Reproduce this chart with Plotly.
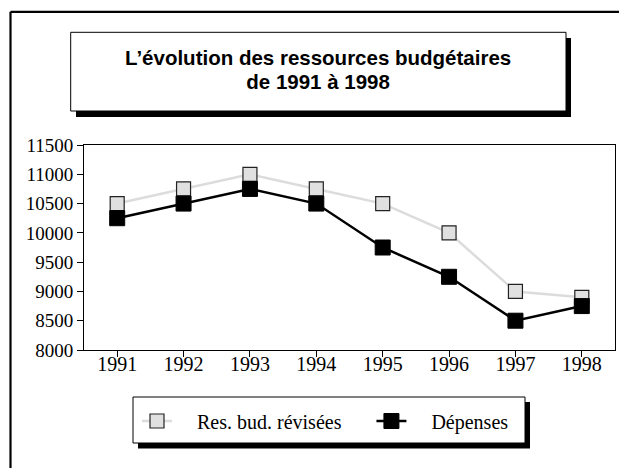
import plotly.graph_objects as go

years = [1991, 1992, 1993, 1994, 1995, 1996, 1997, 1998]
res_bud_revisees = [10500, 10750, 11000, 10750, 10500, 10000, 9000, 8900]
depenses = [10250, 10500, 10750, 10500, 9750, 9250, 8500, 8750]
series_names = ["Res. bud. révisées", "Dépenses"]
title_lines = ["L’évolution des ressources budgétaires", "de 1991 à 1998"]

W, H = 627, 468
OFF = 8  # page body margin
# plot area in window pixels
L, R, T, B = 84, 615, 145, 350


def px2x(px):
    return (px - L) / (R - L)


def py2y(py):
    return (B - py) / (B - T)


NB = "\u00a0"
fig = go.Figure()
fig.add_trace(go.Scatter(
    x=years, y=res_bud_revisees, mode="lines+markers",
    name=NB * 4 + series_names[0] + NB * 5,
    line=dict(color="#dcdcdc", width=2.5),
    marker=dict(symbol="square", size=14, color="#e0e0e0",
                line=dict(color="#222222", width=1.2)),
))
fig.add_trace(go.Scatter(
    x=years, y=depenses, mode="lines+markers",
    name=NB * 4 + series_names[1],
    line=dict(color="#000000", width=2.5),
    marker=dict(symbol="square", size=15, color="#000000",
                line=dict(color="#000000", width=1)),
))

serif = "Liberation Serif"
shapes = [
    dict(type="line", xref="paper", yref="paper", x0=px2x(10.5), x1=px2x(660),
         y0=py2y(11.8), y1=py2y(11.8), line=dict(color="black", width=2.2)),
    dict(type="line", xref="paper", yref="paper", x0=px2x(10.5), x1=px2x(10.5),
         y0=py2y(11.8), y1=py2y(500), line=dict(color="black", width=2.2)),
    dict(type="rect", xref="paper", yref="paper", x0=px2x(76), x1=px2x(571),
         y0=py2y(38), y1=py2y(117), fillcolor="black", line=dict(width=0)),
    dict(type="rect", xref="paper", yref="paper", x0=px2x(70.7), x1=px2x(566),
         y0=py2y(32.3), y1=py2y(111), fillcolor="white", line=dict(color="black", width=1)),
    dict(type="rect", xref="paper", yref="paper", x0=px2x(138), x1=px2x(530),
         y0=py2y(402), y1=py2y(448.5), fillcolor="black", line=dict(width=0)),
    dict(type="rect", xref="paper", yref="paper", x0=px2x(133), x1=px2x(525),
         y0=py2y(397), y1=py2y(443), fillcolor="white", line=dict(color="black", width=1)),
]

title_text = "<br>".join('<span style="font-size:20.5px"><b>' + t + "</b></span>" for t in title_lines)
annotations = [
    dict(text=title_text, xref="paper", yref="paper",
         x=px2x(318), y=py2y(70), xanchor="center", yanchor="middle", showarrow=False,
         font=dict(family="Liberation Sans", size=18.3, color="black")),
]

fig.update_layout(
    width=W, height=H,
    margin=dict(l=L - OFF, r=W - (R - OFF), t=T - OFF, b=H - (B - OFF)),
    paper_bgcolor="white", plot_bgcolor="white",
    shapes=shapes, annotations=annotations,
    showlegend=True,
    legend=dict(orientation="h", x=px2x(137), y=py2y(421), xanchor="left", yanchor="middle",
                bgcolor="rgba(0,0,0,0)", borderwidth=0,
                font=dict(family=serif, size=20, color="black")),
    xaxis=dict(range=[1990.5, 1998.5], tickvals=years, ticktext=[str(y) for y in years],
               showline=True, mirror=True, linecolor="black", linewidth=1,
               ticks="outside", ticklen=6, tickcolor="black", showgrid=False, zeroline=False,
               ticklabelstandoff=-10,
               tickfont=dict(family=serif, size=20, color="black")),
    yaxis=dict(range=[8000, 11500], dtick=500, tick0=8000, tickformat="d",
               showline=True, mirror=True, linecolor="black", linewidth=1,
               ticks="outside", ticklen=6, tickcolor="black", showgrid=False, zeroline=False,
               tickfont=dict(family=serif, size=19, color="black")),
)

fig.write_html("out.html")
